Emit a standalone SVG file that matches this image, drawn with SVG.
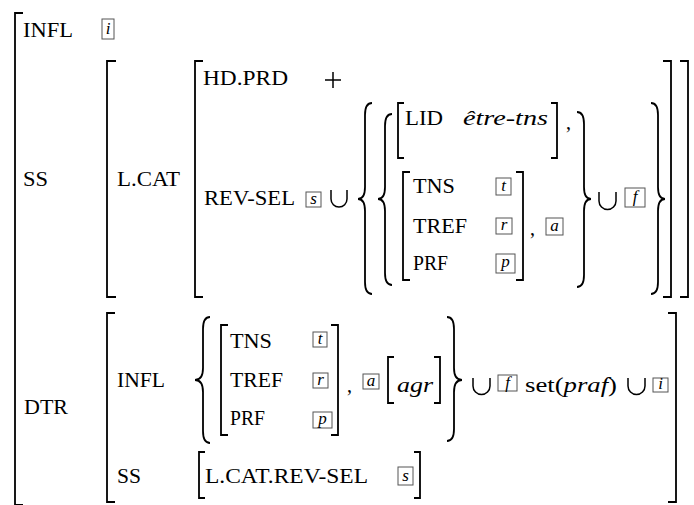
<svg xmlns="http://www.w3.org/2000/svg" width="694" height="505" viewBox="0 0 694 505">
<style>
text{font-family:'Liberation Serif','Times New Roman',serif;font-weight:400;font-size:20px;fill:#000}
.it{font-style:italic}
.bx{fill:none;stroke:#555;stroke-width:1}
.bl{font-style:italic;font-size:17px;text-anchor:middle}
.br{fill:none;stroke:#000;stroke-width:1.8}
.cu{fill:none;stroke:#000;stroke-width:1.5}
</style>
<rect width="694" height="505" fill="#fff"/>
<g id="brackets">
<path class="br" d="M23,13H15V505H23"/>
<path class="br" d="M116,61H107V297H116"/>
<path class="br" d="M680,61H688V297H680"/>
<path class="br" d="M203,61H195V297H203"/>
<path class="br" d="M663,61H671V297H663"/>
<path class="br" d="M404,103H398V158H404"/>
<path class="br" d="M551,103H557V158H551"/>
<path class="br" d="M410,172H403V280H410"/>
<path class="br" d="M516,172H523V280H516"/>
<path class="br" d="M115,313H107V502H115"/>
<path class="br" d="M668,313H676V502H668"/>
<path class="br" d="M228,325H221V435H228"/>
<path class="br" d="M331,325H338V435H331"/>
<path class="br" d="M394,357H388V403H394"/>
<path class="br" d="M434,357H440V403H434"/>
<path class="br" d="M205,452H199V498H205"/>
<path class="br" d="M414,452H420V498H414"/>
</g>
<g id="braces">
<path class="br" d="M372,103Q365,103 365,115L365,187Q365,199 358,199Q365,199 365,211L365,282Q365,294 372,294"/>
<path class="br" d="M392,114Q385,114 385,126L385,187Q385,199 378,199Q385,199 385,211L385,273Q385,285 392,285"/>
<path class="br" d="M577,112Q584,112 584,124L584,187Q584,199 591,199Q584,199 584,211L584,275Q584,287 577,287"/>
<path class="br" d="M651,103Q658,103 658,115L658,187Q658,199 665,199Q658,199 658,211L658,282Q658,294 651,294"/>
<path class="br" d="M210,317Q203,317 203,329L203,368Q203,380 195,380Q203,380 203,392L203,431Q203,443 210,443"/>
<path class="br" d="M447,317Q454,317 454,329L454,368Q454,380 462,380Q454,380 454,392L454,429Q454,441 447,441"/>
</g>
<g id="top">
<text x="23" y="37" textLength="50" lengthAdjust="spacingAndGlyphs">INFL</text>
<rect class="bx" x="102" y="19" width="12" height="20"/><text class="bl" x="108" y="34">i</text>
<text x="23" y="186" textLength="25" lengthAdjust="spacingAndGlyphs">SS</text>
<text x="117" y="186" textLength="63" lengthAdjust="spacingAndGlyphs">L.CAT</text>
<text x="203" y="85" textLength="85" lengthAdjust="spacingAndGlyphs">HD.PRD</text>
<path class="cu" d="M325,80H341M333,72V88"/>
<text x="204" y="205" textLength="91" lengthAdjust="spacingAndGlyphs">REV-SEL</text>
<rect class="bx" x="306" y="192" width="15" height="15"/><text class="bl" x="313.5" y="204">s</text>
<path class="cu" d="M331,190V199A8,8 0 0 0 347,199V190"/>
<text x="405" y="125" textLength="38" lengthAdjust="spacingAndGlyphs">LID</text>
<text class="it" x="463" y="125" textLength="85" lengthAdjust="spacingAndGlyphs">être-tns</text>
<text x="566" y="129">,</text>
<text x="413" y="193" textLength="42" lengthAdjust="spacingAndGlyphs">TNS</text>
<text x="413" y="233" textLength="54" lengthAdjust="spacingAndGlyphs">TREF</text>
<text x="413" y="270" textLength="35" lengthAdjust="spacingAndGlyphs">PRF</text>
<rect class="bx" x="496" y="178" width="15" height="17"/><text class="bl" x="503.5" y="191">t</text>
<rect class="bx" x="496" y="218" width="16" height="16"/><text class="bl" x="504" y="230">r</text>
<rect class="bx" x="496" y="254" width="19" height="19"/><text class="bl" x="505.5" y="267">p</text>
<text x="530" y="235">,</text>
<rect class="bx" x="546" y="218" width="17" height="17"/><text class="bl" x="554.5" y="231">a</text>
<path class="cu" d="M599,192V201A8.5,8.5 0 0 0 616,201V192"/>
<rect class="bx" x="625" y="188" width="20" height="19"/><text class="bl" x="635" y="202">f</text>
</g>
<g id="dtr">
<text x="24" y="414" textLength="44" lengthAdjust="spacingAndGlyphs">DTR</text>
<text x="117" y="387" textLength="48" lengthAdjust="spacingAndGlyphs">INFL</text>
<text x="230" y="348" textLength="42" lengthAdjust="spacingAndGlyphs">TNS</text>
<text x="230" y="387" textLength="53" lengthAdjust="spacingAndGlyphs">TREF</text>
<text x="230" y="425" textLength="35" lengthAdjust="spacingAndGlyphs">PRF</text>
<rect class="bx" x="313" y="332" width="14" height="15"/><text class="bl" x="320" y="344">t</text>
<rect class="bx" x="313" y="373" width="15" height="15"/><text class="bl" x="320.5" y="385">r</text>
<rect class="bx" x="313" y="412" width="19" height="16"/><text class="bl" x="322.5" y="424">p</text>
<text x="347" y="392">,</text>
<rect class="bx" x="363" y="374" width="16" height="15"/><text class="bl" x="371" y="386">a</text>
<text class="it" x="397" y="392" textLength="36" lengthAdjust="spacingAndGlyphs">agr</text>
<path class="cu" d="M473,378V386A8.5,8.5 0 0 0 490,386V378"/>
<rect class="bx" x="498" y="375" width="19" height="16"/><text class="bl" x="507.5" y="388">f</text>
<text x="525" y="392" textLength="92" lengthAdjust="spacingAndGlyphs">set(<tspan class="it">praf</tspan>)</text>
<path class="cu" d="M628,378V386A8.5,8.5 0 0 0 645,386V378"/>
<rect class="bx" x="653" y="378" width="15" height="14"/><text class="bl" x="660.5" y="389">i</text>
<text x="117" y="483" textLength="24" lengthAdjust="spacingAndGlyphs">SS</text>
<text x="205" y="483" textLength="163" lengthAdjust="spacingAndGlyphs">L.CAT.REV-SEL</text>
<rect class="bx" x="398" y="467" width="15" height="18"/><text class="bl" x="405.5" y="481">s</text>
</g>
</svg>
